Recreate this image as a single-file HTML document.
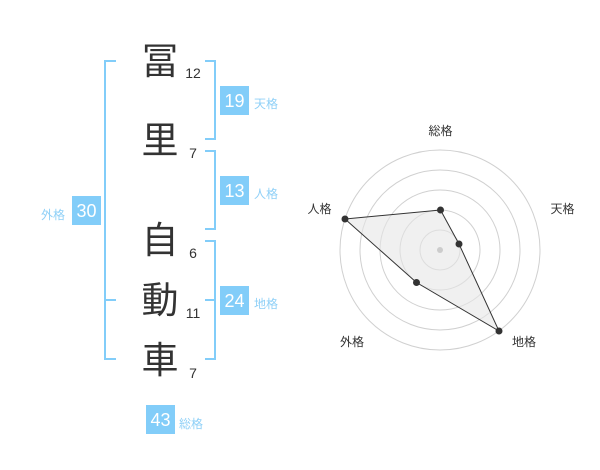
<!DOCTYPE html>
<html><head><meta charset="utf-8"><style>
html,body{margin:0;padding:0;background:#fff;}
body{width:600px;height:470px;position:relative;overflow:hidden;font-family:"Liberation Sans","Noto Sans CJK JP",sans-serif;}
</style></head><body>
<svg width="600" height="470" viewBox="0 0 600 470" xmlns="http://www.w3.org/2000/svg" style="position:absolute;left:0;top:0">
<g font-family="Liberation Sans, Noto Sans CJK JP, sans-serif">
<!-- left bracket -->
<g fill="none" stroke="#82cdf9" stroke-width="2">
<polyline points="116,61 105,61 105,359 116,359"/>
<line x1="105" y1="300" x2="116" y2="300"/>
<polyline points="205,61 215,61 215,139 205,139"/>
<polyline points="205,151 215,151 215,229 205,229"/>
<polyline points="205,241 215,241 215,359 205,359"/>
<line x1="205" y1="300" x2="215" y2="300"/>
</g>
<!-- boxes -->
<g fill="#82cdf9">
<rect x="72" y="196" width="29" height="29"/>
<rect x="220" y="86" width="29" height="29"/>
<rect x="220" y="176" width="29" height="29"/>
<rect x="220" y="286" width="29" height="29"/>
<rect x="146" y="405" width="29" height="29"/>
</g>
<g fill="#fff" font-size="18" text-anchor="middle">
<text x="86.5" y="217">30</text>
<text x="234.5" y="107">19</text>
<text x="234.5" y="197">13</text>
<text x="234.5" y="307">24</text>
<text x="160.5" y="426">43</text>
</g>
<g fill="#8fd0f7" font-size="12" font-family="Noto Sans CJK JP, sans-serif">
<text x="41" y="219">外格</text>
<text x="254" y="108">天格</text>
<text x="254" y="198">人格</text>
<text x="254" y="308">地格</text>
<text x="179" y="428">総格</text>
</g>
<!-- characters -->
<g fill="#333" font-size="37" text-anchor="middle" font-family="Noto Sans CJK JP, sans-serif">
<text x="160" y="74">冨</text>
<text x="160" y="153">里</text>
<text x="160" y="253">自</text>
<text x="160" y="313">動</text>
<text x="160" y="373">車</text>
</g>
<g fill="#333" font-size="14" text-anchor="middle">
<text x="193" y="78">12</text>
<text x="193" y="158">7</text>
<text x="193" y="258">6</text>
<text x="193" y="318">11</text>
<text x="193" y="378">7</text>
</g>
<!-- radar -->
<g fill="none" stroke="#d0d0d0" stroke-width="1">
<circle cx="440" cy="250" r="20"/>
<circle cx="440" cy="250" r="40"/>
<circle cx="440" cy="250" r="60"/>
<circle cx="440" cy="250" r="80"/>
<circle cx="440" cy="250" r="100"/>
</g>
<polygon points="440.5,210 459,244 499,331 416.5,282.5 345,219" fill="#e6e6e6" fill-opacity="0.6" stroke="#333" stroke-width="1"/>
<circle cx="440" cy="250" r="3" fill="#ccc"/>
<g fill="#333">
<circle cx="440.5" cy="210" r="3.5"/>
<circle cx="459" cy="244" r="3.5"/>
<circle cx="499" cy="331" r="3.5"/>
<circle cx="416.5" cy="282.5" r="3.5"/>
<circle cx="345" cy="219" r="3.5"/>
</g>
<g fill="#333" font-size="12" font-family="Noto Sans CJK JP, sans-serif" text-anchor="middle">
<text x="440.5" y="135">総格</text>
<text x="562.5" y="213">天格</text>
<text x="319.5" y="213">人格</text>
<text x="352" y="346">外格</text>
<text x="524" y="346">地格</text>
</g>
</g>
</svg>
</body></html>
